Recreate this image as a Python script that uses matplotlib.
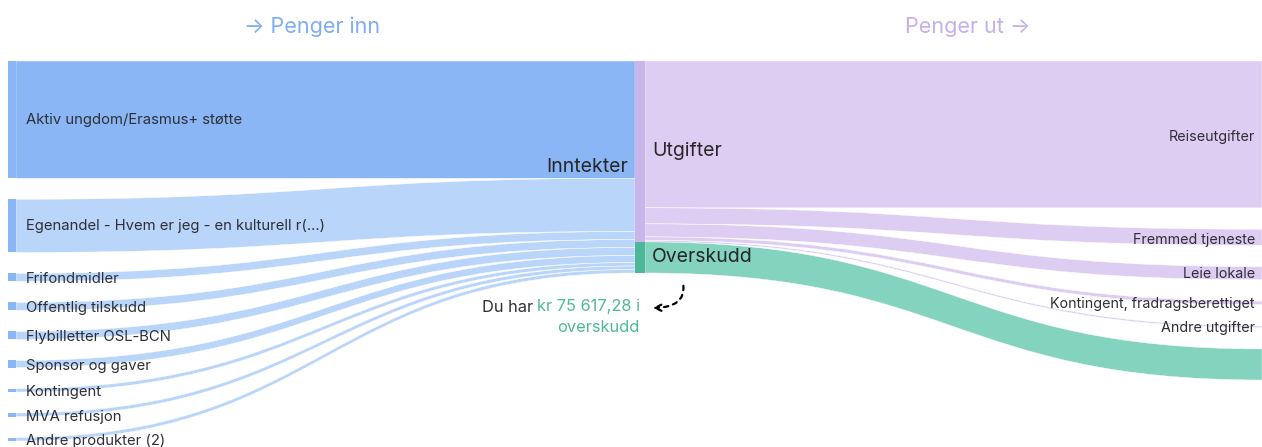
import matplotlib
matplotlib.use("Agg")
import matplotlib.pyplot as plt
from matplotlib.path import Path
from matplotlib.patches import PathPatch, Rectangle, FancyArrowPatch

plt.rcParams['font.family'] = ['Inter', 'DejaVu Sans']

# data (kr)
income_labels = ['Aktiv ungdom/Erasmus+ støtte', 'Egenandel - Hvem er jeg - en kulturell r(...)',
                 'Frifondmidler', 'Offentlig tilskudd', 'Flybilletter OSL-BCN',
                 'Sponsor og gaver', 'Kontingent', 'MVA refusjon', 'Andre produkter (2)']
income_values = [285400, 129300, 19500, 19500, 19500, 17100, 8500, 8500, 8500]

expense_labels = ['Reiseutgifter', 'Fremmed tjeneste', 'Leie lokale',
                  'Kontingent, fradragsberettiget', 'Andre utgifter']
expense_values = [357282.72, 39000, 31700, 8500, 3700]
surplus = 75617.28

# layout (pixels)
W, H = 1262, 447
top = 61
col_h = 212
left_gap = 21
right_gap = 21.4
x_left, x_left_bar = 8, 16
x_mid0, x_mid1 = 635, 645
x_right = 1262

total = sum(income_values)
k = col_h / total

blue_dark = '#8ab6f6'
blue_light = '#bad5fa'
purple_link = '#ddcdf2'
purple_node = '#c9b5ea'
green_link = '#84d3bf'
green_node = '#4cb897'
txt = '#2f2f35'


def band(ax, x0, x1, t0, b0, t1, b1, color, z=1):
    xm = (x0 + x1) / 2
    verts = [(x0, t0), (xm, t0), (xm, t1), (x1, t1),
             (x1, b1), (xm, b1), (xm, b0), (x0, b0), (x0, t0)]
    codes = [Path.MOVETO, Path.CURVE4, Path.CURVE4, Path.CURVE4,
             Path.LINETO, Path.CURVE4, Path.CURVE4, Path.CURVE4, Path.CLOSEPOLY]
    ax.add_patch(PathPatch(Path(verts, codes), facecolor=color, edgecolor='white',
                           linewidth=0.3, zorder=z))


fig = plt.figure(figsize=(W / 100, H / 100), dpi=100)
ax = fig.add_axes([0, 0, 1, 1])
ax.set_xlim(0, W)
ax.set_ylim(H, 0)
ax.axis('off')

# income side
y_left = top
y_mid = top
for i, (lab, v) in enumerate(zip(income_labels, income_values)):
    h = v * k
    col = blue_dark if i == 0 else blue_light
    band(ax, x_left_bar, x_mid0, y_left, y_left + h, y_mid, y_mid + h, col, z=1 + i * 0.01)
    ax.add_patch(Rectangle((x_left, y_left), x_left_bar - x_left, h,
                           facecolor=blue_dark, edgecolor='none', zorder=3))
    dy = 0 if i < 2 else 2
    ax.text(26, y_left + h / 2 + dy, lab, fontsize=10.7, color=txt, va='center', ha='left', zorder=5)
    y_left += h + left_gap
    y_mid += h

# middle nodes
exp_total = sum(expense_values)
ax.add_patch(Rectangle((x_mid0, top), x_mid1 - x_mid0, exp_total * k,
                       facecolor=purple_node, edgecolor='none', zorder=3))
ax.add_patch(Rectangle((x_mid0, top + exp_total * k), x_mid1 - x_mid0, surplus * k,
                       facecolor=green_node, edgecolor='none', zorder=3))

# expense side
y_right = top
y_mid = top
for i, (lab, v) in enumerate(zip(expense_labels, expense_values)):
    h = v * k
    band(ax, x_mid1, x_right, y_mid, y_mid + h, y_right, y_right + h, purple_link, z=2)
    dy = 3 if i < 2 else 1
    ax.text(1255, y_right + h / 2 + dy, lab, fontsize=10.3, color=txt, va='center', ha='right', zorder=5)
    y_right += h + right_gap
    y_mid += h

h = surplus * k
band(ax, x_mid1, x_right, y_mid, y_mid + h, y_right, y_right + h, green_link, z=2)

# node labels
ax.text(628, top + col_h / 2, 'Inntekter', fontsize=14, color='#262626', ha='right', va='center', zorder=5)
ax.text(652, top + exp_total * k / 2, 'Utgifter', fontsize=14, color='#262626', ha='left', va='center', zorder=5)
ax.text(652, top + exp_total * k + surplus * k / 2, 'Overskudd', fontsize=14, color='#262626',
        ha='left', va='center', zorder=5)

# titles
ax.text(312, 27, '→ Penger inn', fontsize=15.5, color='#7eadf1', ha='center', va='center')
ax.text(968, 27, 'Penger ut →', fontsize=15.5, color='#c4b0ec', ha='center', va='center')

# surplus note
amount = 'kr ' + f'{surplus:,.2f}'.replace(',', ' ').replace('.', ',') + ' i'
t1 = ax.text(640, 307, amount, fontsize=11.8, color='#4cba98', ha='right', va='center')
fig.canvas.draw()
bb = t1.get_window_extent(fig.canvas.get_renderer())
x_start = ax.transData.inverted().transform((bb.x0, bb.y0))[0]
ax.text(x_start - 4, 307, 'Du har', fontsize=11.8, color=txt, ha='right', va='center')
ax.text(640, 328, 'overskudd', fontsize=11.8, color='#4cba98', ha='right', va='center')

arr = FancyArrowPatch((683, 283), (650, 308), connectionstyle='angle3,angleA=100,angleB=0',
                      arrowstyle='->', mutation_scale=11, linestyle=(0, (2, 2.2)),
                      linewidth=1.6, color='black')
ax.add_patch(arr)

fig.savefig('out.png', dpi=100)
